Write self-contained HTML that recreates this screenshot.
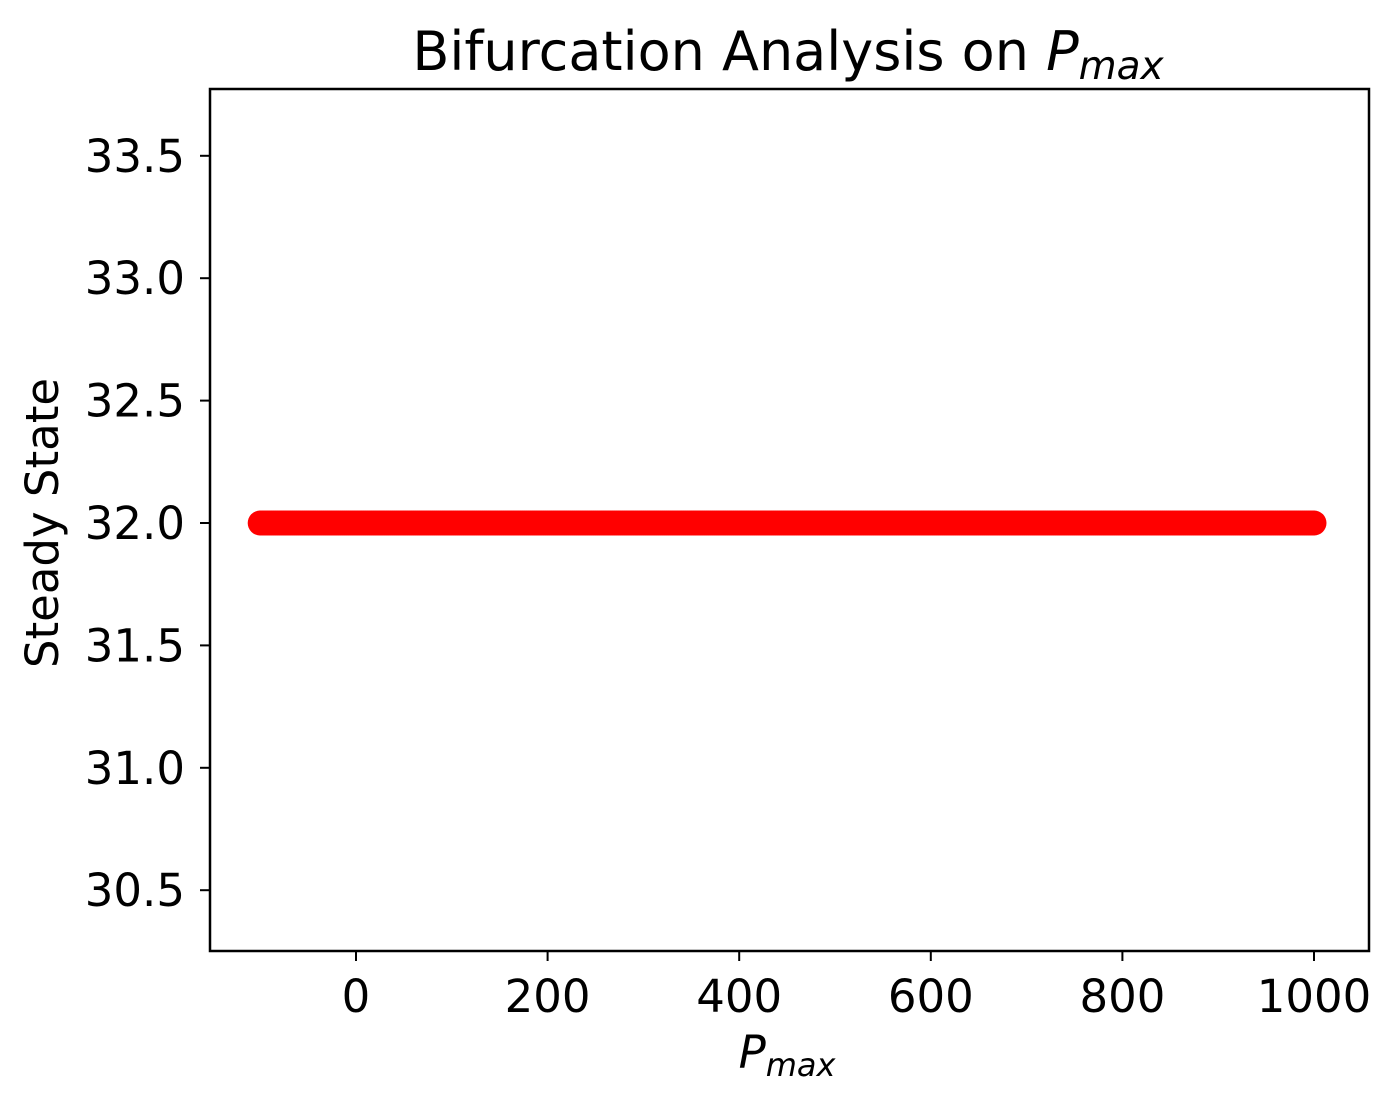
<!DOCTYPE html>
<html><head><meta charset="utf-8"><style>
body{margin:0;background:#fff}
svg text{font-family:"DejaVu Sans","Liberation Sans",sans-serif;fill:#000}
</style></head><body>
<svg width="1397" height="1109">
<text x="788" y="70" font-size="54" text-anchor="middle">Bifurcation Analysis on <tspan font-style="italic">P</tspan><tspan font-style="italic" font-size="39" dy="9">max</tspan></text>
<g id="points"></g>
<rect x="210" y="89" width="1159" height="862" fill="none" stroke="#000" stroke-width="2.5"/>
<g id="xt"></g><g id="yt"></g>
<text x="787" y="1068" font-size="45" text-anchor="middle" font-style="italic">P<tspan font-size="32" dy="8">max</tspan></text>
<text transform="translate(58,523) rotate(-90)" font-size="45" text-anchor="middle">Steady State</text>
</svg>
<script>
const xTicks=[0,200,400,600,800,1000];
const yTicks=[30.5,31.0,31.5,32.0,32.5,33.0,33.5];
const xStart=-100, xEnd=1000, xStep=2;
const steadyValue=32.0;
const X=v=>356+(v-0)*0.958;
const Y=v=>523-(v-32)*244.8;
const ns="http://www.w3.org/2000/svg";
const xt=document.getElementById('xt'),yt=document.getElementById('yt'),pts=document.getElementById('points');
for(let v=xStart;v<=xEnd;v+=xStep){
 const c=document.createElementNS(ns,'circle');
 
 
 c.setAttribute('cx',X(v));c.setAttribute('cy',Y(steadyValue));c.setAttribute('r',12.5);c.setAttribute('fill','#ff0000');
 pts.appendChild(c);
}
xTicks.forEach(v=>{
 const l=document.createElementNS(ns,'line');
 
 
 l.setAttribute('x1',X(v));l.setAttribute('x2',X(v));l.setAttribute('y1',951);l.setAttribute('y2',961);l.setAttribute('stroke','#000');l.setAttribute('stroke-width',2);
 xt.appendChild(l);
 const t=document.createElementNS(ns,'text');
 
 
 t.setAttribute('x',X(v));t.setAttribute('y',1012);t.setAttribute('font-size',45);t.setAttribute('text-anchor','middle');
 t.textContent=v;xt.appendChild(t);
});
yTicks.forEach(v=>{
 const l=document.createElementNS(ns,'line');
 
 
 l.setAttribute('x1',200);l.setAttribute('x2',210);l.setAttribute('y1',Y(v));l.setAttribute('y2',Y(v));l.setAttribute('stroke','#000');l.setAttribute('stroke-width',2);
 yt.appendChild(l);
 const t=document.createElementNS(ns,'text');
 
 
 t.setAttribute('x',185);t.setAttribute('y',Y(v)+16);t.setAttribute('font-size',45);t.setAttribute('text-anchor','end');
 t.textContent=v.toFixed(1);yt.appendChild(t);
});
</script>
</body></html>
